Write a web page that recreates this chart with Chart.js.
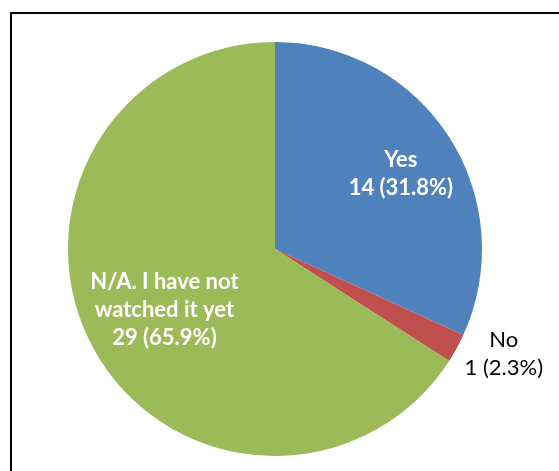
<!DOCTYPE html>
<html>
<head>
<meta charset="utf-8">
<title>Have you watched it?</title>
<script src="https://cdn.jsdelivr.net/npm/chart.js@4/dist/chart.umd.min.js"></script>
<style>
    html, body { margin: 0; padding: 0; background: #fff; overflow: hidden; }
    #wrap { position: relative; width: 559px; height: 471px; overflow: hidden; }
    /* chart frame, runs off the right and bottom edges */
    #frame {
        position: absolute; left: 10px; top: 12px;
        width: 600px; height: 520px;
        border: 2px solid #000;
    }
    #pieChart { position: absolute; left: 0; top: 0; }
</style>
</head>
<body>
<div id="wrap">
    <div id="frame"></div>
    <canvas id="pieChart" width="559" height="471"></canvas>
</div>
<script>
// ===== data =====
const categories = ['Yes', 'No', 'N/A. I have not watched it yet'];
const labelLines = [['Yes'], ['No'], ['N/A. I have not', 'watched it yet']];
const counts = [14, 1, 29];
const sliceColors = ['#4F81BD', '#C0504D', '#9BBB59'];

// label placement: where along the slice (0..1 of its sweep) and how far out (x radius)
const labelSpots = [
    { along: 0.517, radius: 0.708, color: '#fff', weight: 'bold', size: 22 },
    { along: 0.0,   radius: 1.215, color: '#000', weight: 'normal', size: 22 },
    { along: 0.499, radius: 0.610, color: '#fff', weight: 'bold', size: 22 }
];

const total = counts.reduce((a, b) => a + b, 0);

// draws "name / count (pct%)" blocks at each slice
const sliceLabels = {
    id: 'sliceLabels',
    afterDatasetsDraw(chart) {
        const ctx = chart.ctx;
        const meta = chart.getDatasetMeta(0);
        const lineH = 28;
        meta.data.forEach((arc, i) => {
            const spot = labelSpots[i];
            const a = arc.startAngle + (arc.endAngle - arc.startAngle) * spot.along;
            const d = arc.outerRadius * spot.radius;
            const cx = arc.x + Math.cos(a) * d;
            const cy = arc.y + Math.sin(a) * d;

            const pct = (counts[i] / total * 100).toFixed(1);
            const lines = labelLines[i].concat([`${counts[i]} (${pct}%)`]);

            ctx.save();
            ctx.font = `${spot.weight} ${spot.size}px Lato, "Open Sans", sans-serif`;
            ctx.fillStyle = spot.color;
            ctx.textAlign = 'center';
            ctx.textBaseline = 'middle';
            const top = cy - (lines.length - 1) * lineH / 2;
            lines.forEach((t, k) => ctx.fillText(t, cx, top + k * lineH));
            ctx.restore();
        });
    }
};

new Chart(document.getElementById('pieChart'), {
    type: 'pie',
    data: {
        labels: categories,
        datasets: [{
            data: counts,
            backgroundColor: sliceColors,
            borderWidth: 0
        }]
    },
    options: {
        responsive: false,
        animation: false,
        layout: { padding: { top: 42, bottom: 15, left: 68, right: 77 } },
        plugins: {
            legend: { display: false },
            tooltip: { enabled: false }
        }
    },
    plugins: [sliceLabels]
});
</script>
</body>
</html>
